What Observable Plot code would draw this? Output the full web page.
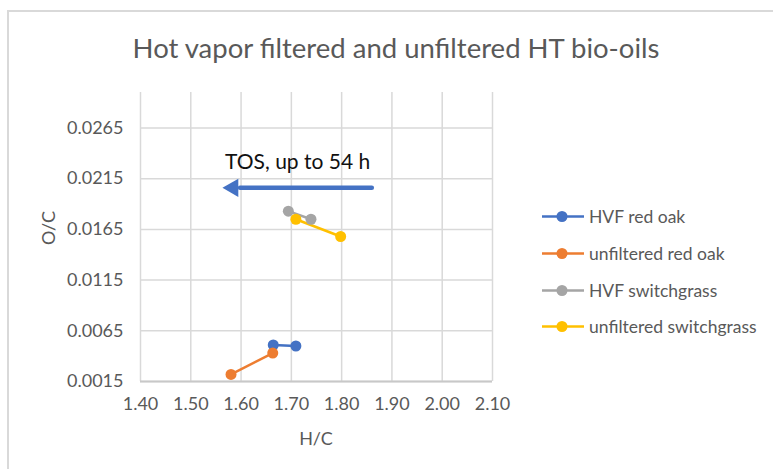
<!DOCTYPE html>
<html>
<head>
<meta charset="utf-8">
<script src="https://cdn.jsdelivr.net/npm/d3@7"></script>
<script src="https://cdn.jsdelivr.net/npm/@observablehq/plot@0.6"></script>
<style>
  html, body { margin: 0; padding: 0; background: #fff; }
  #wrap { position: relative; width: 773px; height: 469px; overflow: hidden; font-family: Lato, "Liberation Sans", sans-serif; color: #595959; }
  #frame { position: absolute; left: 7px; top: 10px; width: 800px; height: 500px; border-left: 2px solid #d9d9d9; border-top: 2px solid #d9d9d9; }
  #chart { position: absolute; left: 0; top: 0; }
  .lbl { position: absolute; white-space: nowrap; }
  #title { left: 396px; top: 47px; font-size: 27.5px; transform: translate(-50%, -50%); }
  #ylab { left: 48px; top: 228px; font-size: 18px; transform: translate(-50%, -50%) rotate(-90deg); }
  #xlab { left: 316px; top: 438px; font-size: 18px; transform: translate(-50%, -50%); }
  #legend { position: absolute; left: 542px; top: 0; }
  .row { position: absolute; left: 0; display: flex; align-items: center; font-size: 17.5px; white-space: nowrap; transform: translateY(-50%); }
  .row svg { margin-right: 5px; }
</style>
</head>
<body>
<div id="wrap">
  <div id="frame"></div>
  <div id="chart"></div>
  <div class="lbl" id="title">Hot vapor filtered and unfiltered HT bio-oils</div>
  <div class="lbl" id="ylab">O/C</div>
  <div class="lbl" id="xlab">H/C</div>
  <div id="legend"></div>
</div>
<script>
// ---- data ----
const seriesNames = ["HVF red oak", "unfiltered red oak", "HVF switchgrass", "unfiltered switchgrass"];
const seriesColors = ["#4472C4", "#ED7D31", "#A5A5A5", "#FFC000"];
const hvfRedOakHC = [1.664, 1.709];
const hvfRedOakOC = [0.0051, 0.0050];
const unfRedOakHC = [1.663, 1.580];
const unfRedOakOC = [0.0043, 0.0022];
const hvfSwitchHC = [1.694, 1.739];
const hvfSwitchOC = [0.0183, 0.0175];
const unfSwitchHC = [1.709, 1.798];
const unfSwitchOC = [0.0175, 0.0158];
const xTicks = [1.40, 1.50, 1.60, 1.70, 1.80, 1.90, 2.00, 2.10];
const yTicks = [0.0015, 0.0065, 0.0115, 0.0165, 0.0215, 0.0265];
// annotation arrow (TOS direction), in data units
const arrowHC = [1.860, 1.598];
const arrowOC = [0.0206, 0.0206];
const arrowHeadHC = [1.584];
const annotationText = ["TOS, up to 54 h"];
const annotationHC = [1.7125];
const annotationOC = [0.0231];

const seriesHC = [hvfRedOakHC, unfRedOakHC, hvfSwitchHC, unfSwitchHC];
const seriesOC = [hvfRedOakOC, unfRedOakOC, hvfSwitchOC, unfSwitchOC];
const rows = seriesNames.flatMap((s, i) => seriesHC[i].map((hc, j) => ({series: s, hc, oc: seriesOC[i][j]})));

const chart = Plot.plot({
  width: 773,
  height: 469,
  marginLeft: 140,
  marginRight: 281,
  marginTop: 92,
  marginBottom: 88,
  style: {fontFamily: "Lato, 'Liberation Sans', sans-serif", fontSize: "18px", color: "#595959", background: "transparent", overflow: "visible"},
  x: {domain: [1.4, 2.1]},
  y: {domain: [0.0015, 0.0300]},
  marks: [
    Plot.gridX(xTicks, {stroke: "#d9d9d9", strokeOpacity: 1, strokeWidth: 1.5}),
    Plot.gridY(yTicks, {stroke: "#d9d9d9", strokeOpacity: 1, strokeWidth: 1.5}),
    Plot.ruleY([0.0015], {stroke: "#c8c8c8", strokeWidth: 2}),
    Plot.axisX(xTicks, {tickSize: 0, tickPadding: 16, tickFormat: d3.format(".2f"), label: null, fill: "#595959"}),
    Plot.axisY(yTicks, {tickSize: 0, tickPadding: 17, tickFormat: d3.format(".4f"), label: null, fill: "#595959"}),
    ...seriesNames.map((s, i) => Plot.line(rows.filter(d => d.series === s), {x: "hc", y: "oc", stroke: seriesColors[i], strokeWidth: 2.5})),
    ...seriesNames.map((s, i) => Plot.dot(rows.filter(d => d.series === s), {x: "hc", y: "oc", fill: seriesColors[i], r: 5.5, stroke: "none"})),
    Plot.line(arrowHC.map((hc, i) => ({hc, oc: arrowOC[i]})), {x: "hc", y: "oc", stroke: "#4472C4", strokeWidth: 4.5}),
    Plot.dot(arrowHeadHC.map(hc => ({hc, oc: arrowOC[0]})), {x: "hc", y: "oc", symbol: "triangle", r: 6.8, rotate: -90, fill: "#4472C4", stroke: "none"}),
    Plot.text(annotationText.map((t, i) => ({t, hc: annotationHC[i], oc: annotationOC[i]})), {x: "hc", y: "oc", text: "t", fill: "#111", fontSize: 21})
  ]
});
document.getElementById("chart").appendChild(chart);

// legend
const legend = document.getElementById("legend");
const legendTops = [216, 253, 290, 326];
seriesNames.forEach((s, i) => {
  const row = document.createElement("div");
  row.className = "row";
  row.style.top = legendTops[i] + "px";
  row.innerHTML = `<svg width="42" height="14"><line x1="0" x2="42" y1="7" y2="7" stroke="${seriesColors[i]}" stroke-width="2.5"/><circle cx="20" cy="7" r="5.5" fill="${seriesColors[i]}"/></svg><span>${s}</span>`;
  legend.appendChild(row);
});
</script>
</body>
</html>
